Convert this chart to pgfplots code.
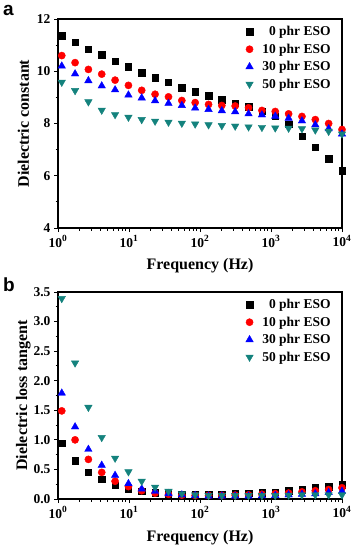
\documentclass[border=0pt]{standalone}
\usepackage{pgfplots}
\pgfplotsset{compat=1.18}
\usepackage{pgfplotstable}
\usepackage{fontspec}
\setmainfont{Liberation Serif}
\newfontfamily\panelfont{Liberation Sans}
\definecolor{tealg}{RGB}{20,130,125}

\pgfplotstableread{
f a0 a10 a30 a50
1.13 11.36 10.60 10.20 9.58
1.74 11.11 10.33 9.90 9.26
2.68 10.85 10.07 9.64 8.83
4.13 10.64 9.89 9.44 8.51
6.37 10.39 9.66 9.29 8.34
9.82 10.17 9.46 9.09 8.24
15.1 9.95 9.27 8.98 8.15
23.3 9.75 9.12 8.87 8.09
36.0 9.57 9.02 8.77 8.05
55.5 9.37 8.88 8.69 8.01
85.5 9.22 8.80 8.59 7.98
132 9.07 8.73 8.54 7.95
203 8.91 8.69 8.49 7.92
313 8.78 8.67 8.45 7.90
483 8.64 8.60 8.37 7.87
745 8.48 8.50 8.33 7.85
1148 8.28 8.46 8.28 7.83
1770 7.97 8.37 8.20 7.82
2729 7.52 8.27 8.10 7.80
4207 7.10 8.15 7.95 7.75
6486 6.65 8.00 7.80 7.70
10000 6.20 7.77 7.60 7.60
}\tableA

\pgfplotstableread{
f b0 b10 b30 b50
1.13 0.94 1.49 1.79 3.39
1.74 0.65 1.00 1.22 2.30
2.68 0.45 0.67 0.84 1.55
4.13 0.33 0.45 0.57 1.04
6.37 0.23 0.30 0.40 0.69
9.82 0.17 0.21 0.26 0.46
15.1 0.13 0.14 0.17 0.30
23.3 0.11 0.10 0.13 0.20
36.0 0.09 0.08 0.09 0.13
55.5 0.085 0.065 0.07 0.09
85.5 0.08 0.06 0.06 0.07
132 0.08 0.06 0.05 0.06
203 0.085 0.06 0.05 0.06
313 0.09 0.065 0.05 0.06
483 0.10 0.07 0.05 0.06
745 0.11 0.08 0.055 0.06
1148 0.12 0.09 0.06 0.06
1770 0.14 0.10 0.07 0.065
2729 0.16 0.12 0.08 0.07
4207 0.19 0.14 0.09 0.07
6486 0.21 0.16 0.11 0.07
10000 0.24 0.19 0.13 0.07
}\tableB

\pgfplotsset{
  mycommon/.style={
    scale only axis, width=284pt,
    xmin=1, xmax=10000,
    xtick={1,10,100,1000,10000},
    xticklabels={10\textsuperscript{0},10\textsuperscript{1},10\textsuperscript{2},10\textsuperscript{3},10\textsuperscript{4}},
    axis line style={line width=1.3pt},
    tick style={line width=0.9pt, black},
    tick align=outside,
    xtick pos=bottom, ytick pos=left,
    major tick length=4pt, minor tick length=2.5pt,
    /pgf/number format/assume math mode=true,
    tick label style={font=\fontsize{13.5}{15}\selectfont\bfseries},
    label style={font=\fontsize{16}{18}\selectfont\bfseries},
    xlabel={Frequency (Hz)},
    legend style={draw=none, fill=none, at={(0.978,0.985)}, anchor=north east,
      font=\fontsize{13.5}{15}\selectfont\bfseries, row sep=2.6pt, column sep=7pt},
    legend cell align=right,
  },
  myms/.style={only marks, mark=square*, mark size=3.2pt, black, mark options={draw=black, fill=black}},
  mymc/.style={only marks, mark=*, mark size=3.6pt, red, mark options={draw=red, fill=red}},
  mymt/.style={only marks, mark=triangle*, mark size=4.3pt, blue, mark options={draw=blue, fill=blue}},
  mymg/.style={only marks, mark=triangle*, mark size=4.3pt, tealg, mark options={draw=tealg, fill=tealg, rotate=180}},
}

\begin{document}
\begin{tikzpicture}
\path[use as bounding box] (0,0) rectangle (355pt,-550pt);
\node[anchor=north west, font=\panelfont\bfseries\fontsize{19}{20}\selectfont, inner sep=0pt] at (3pt,-5pt) {a};
\node[anchor=north west, font=\panelfont\bfseries\fontsize{19}{20}\selectfont, inner sep=0pt] at (3pt,-278pt) {b};

\begin{semilogxaxis}[mycommon, at={(58pt,-228pt)}, anchor=south west,
  height=209pt, ymin=4, ymax=12, ytick={4,6,8,10,12}, minor y tick num=1,
  ylabel={Dielectric constant},
  ylabel style={at={(axis description cs:-0.122,0.5)}, anchor=center},
  xlabel style={at={(axis description cs:0.5,-0.18)}, anchor=center}]
\addplot[myms] table[x=f, y=a0] {\tableA};
\addlegendentry{0 phr ESO}
\addplot[mymc] table[x=f, y=a10] {\tableA};
\addlegendentry{10 phr ESO}
\addplot[mymt] table[x=f, y=a30] {\tableA};
\addlegendentry{30 phr ESO}
\addplot[mymg] table[x=f, y=a50] {\tableA};
\addlegendentry{50 phr ESO}
\end{semilogxaxis}

\begin{semilogxaxis}[mycommon, at={(58pt,-499pt)}, anchor=south west,
  height=207pt, ymin=0, ymax=3.5, ytick={0,0.5,...,3.5}, minor y tick num=1,
  yticklabel style={/pgf/number format/fixed, /pgf/number format/fixed zerofill, /pgf/number format/precision=1},
  ylabel={Dielectric loss tangent},
  ylabel style={at={(axis description cs:-0.122,0.5)}, anchor=center},
  xlabel style={at={(axis description cs:0.5,-0.185)}, anchor=center}]
\addplot[myms] table[x=f, y=b0] {\tableB};
\addlegendentry{0 phr ESO}
\addplot[mymc] table[x=f, y=b10] {\tableB};
\addlegendentry{10 phr ESO}
\addplot[mymt] table[x=f, y=b30] {\tableB};
\addlegendentry{30 phr ESO}
\addplot[mymg] table[x=f, y=b50] {\tableB};
\addlegendentry{50 phr ESO}
\end{semilogxaxis}
\end{tikzpicture}
\end{document}
